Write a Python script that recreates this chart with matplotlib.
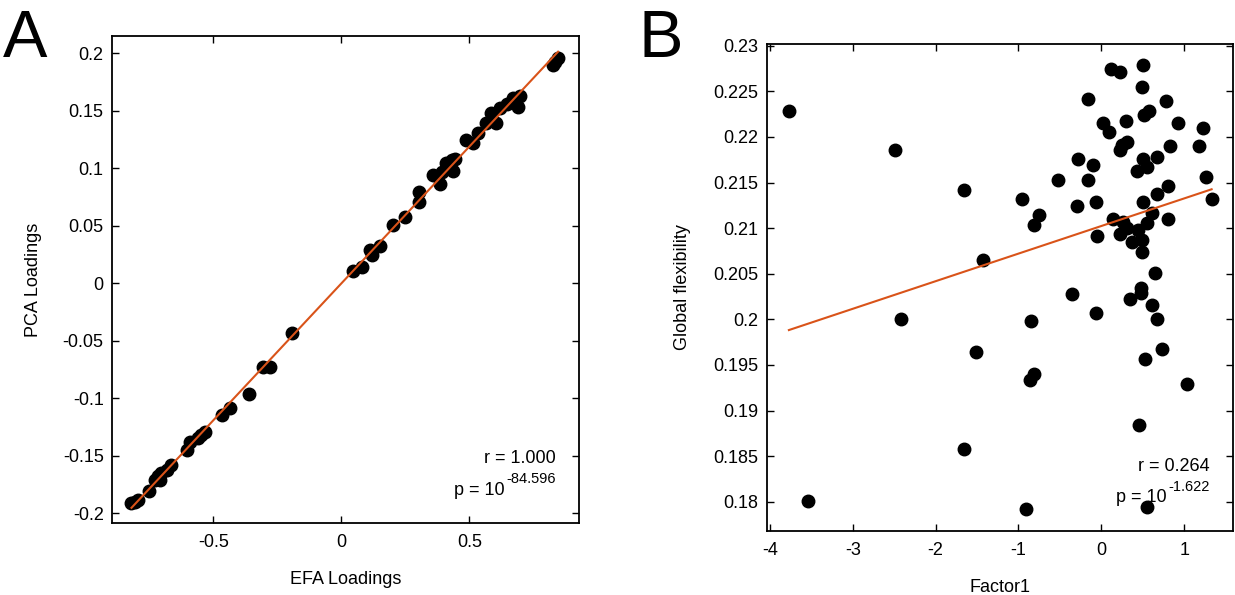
import numpy as np
import matplotlib
matplotlib.use("Agg")
import matplotlib.pyplot as plt
from matplotlib.ticker import FuncFormatter

plt.rcParams["font.family"] = ["Liberation Sans", "DejaVu Sans"]
plt.rcParams["axes.unicode_minus"] = False

# ── Panel A: EFA vs PCA loadings ──
efa_loadings = [
    0.046, 0.079, 0.111, 0.118, 0.150, 0.200, 0.248, 0.304, 0.304, 0.358,
    0.384, 0.391, 0.410, 0.430, 0.443, 0.436, 0.488, 0.512, 0.534, 0.566,
    0.586, 0.605, 0.621, 0.645, 0.670, 0.696, 0.690, 0.826, 0.846, 0.833,
    -0.192, -0.307, -0.279, -0.361, -0.435, -0.465, -0.533, -0.546, -0.559, -0.591,
    -0.604, -0.663, -0.682, -0.702, -0.715, -0.728, -0.708, -0.750, -0.806, -0.793,
    -0.819,
]
pca_loadings = [
    0.0107, 0.0136, 0.0287, 0.0243, 0.0322, 0.0504, 0.0577, 0.0794, 0.0707, 0.0939,
    0.0861, 0.0968, 0.1040, 0.1070, 0.1080, 0.0977, 0.1240, 0.1220, 0.1307, 0.1390,
    0.1475, 0.1388, 0.1520, 0.1557, 0.1606, 0.1626, 0.1533, 0.1896, 0.1954, 0.1925,
    -0.0437, -0.0728, -0.0733, -0.0965, -0.1090, -0.1148, -0.1293, -0.1320, -0.1350, -0.1380,
    -0.1450, -0.1580, -0.1626, -0.1655, -0.1680, -0.1710, -0.1710, -0.1806, -0.1900, -0.1890,
    -0.1910,
]
stats_A = ("1.000", "-84.596")

# ── Panel B: Factor1 vs global flexibility ──
factor1 = [
    -3.771, -2.491, -1.659, -1.433, -0.955, -0.810, -0.754, -0.528, -0.299, -0.279,
    -0.158, -0.158, -0.106, -0.070, -0.058, 0.022, 0.094, 0.115, 0.224, 0.293,
    0.224, 0.244, 0.305, 0.143, 0.264, 0.305, 0.224, 0.373, 0.425, 0.486,
    0.505, 0.498, 0.553, 0.498, 0.518, 0.578, 0.445, 0.486, 0.486, 0.553,
    0.607, 0.675, 0.675, 0.646, 0.779, 0.807, 0.807, 0.827, 0.928, 1.181,
    1.229, 1.258, 1.331,
    -2.419, -0.352, -0.854, -1.514, -0.862, -0.810, -0.070, 0.345, 0.474, 0.474,
    0.607, 0.675, 0.727, 0.526, 1.029, 0.453, -1.659, -3.545, -0.910, 0.553,
]
global_flex = [
    0.22287, 0.21852, 0.21421, 0.20646, 0.21322, 0.21030, 0.21147, 0.21531, 0.21238, 0.21761,
    0.22419, 0.21531, 0.21688, 0.21282, 0.20909, 0.22152, 0.22060, 0.22744, 0.22718, 0.22170,
    0.21860, 0.21914, 0.21944, 0.21100, 0.21073, 0.21000, 0.20938, 0.20848, 0.21630, 0.22543,
    0.22792, 0.21761, 0.21666, 0.21282, 0.22243, 0.22287, 0.20982, 0.20873, 0.20738, 0.21056,
    0.21172, 0.21786, 0.21374, 0.20508, 0.22400, 0.21468, 0.21100, 0.21896, 0.22152, 0.21896,
    0.22104, 0.21556, 0.21322,
    0.20003, 0.20277, 0.19977, 0.19637, 0.19338, 0.19404, 0.20069, 0.20226, 0.20343, 0.20288,
    0.20160, 0.20003, 0.19678, 0.19565, 0.19294, 0.18837, 0.18581, 0.18014, 0.17923, 0.17942,
]
stats_B = ("0.264", "-1.622")

LINE_COLOR = "#D95319"
FS = 13


def fmt(v, pos):
    v = round(v, 4)
    if v == 0:
        return "0"
    return "%g" % v


def scatter_panel(ax, x, y, stats, xticks, yticks, xlim, ylim, xlabel, ylabel, ylabelpad):
    x = np.asarray(x)
    y = np.asarray(y)
    ax.plot(x, y, "o", color="black", markersize=9, zorder=2)
    k, b = np.polyfit(x, y, 1)
    xs = np.array([x.min(), x.max()])
    ax.plot(xs, k * xs + b, color=LINE_COLOR, lw=1.5, zorder=3)

    ax.set_xlim(*xlim)
    ax.set_ylim(*ylim)
    ax.set_xticks(xticks)
    ax.set_yticks(yticks)
    ax.xaxis.set_major_formatter(FuncFormatter(fmt))
    ax.yaxis.set_major_formatter(FuncFormatter(fmt))
    ax.tick_params(direction="in", top=True, right=True, length=5, width=1,
                   labelsize=FS)
    ax.tick_params(axis="y", pad=6)
    ax.tick_params(axis="x", pad=8)
    for s in ax.spines.values():
        s.set_linewidth(1.3)
    ax.set_xlabel(xlabel, fontsize=FS, labelpad=14)
    ax.set_ylabel(ylabel, fontsize=FS, labelpad=ylabelpad)

    ax.text(0.95, 0.123, "r = %s" % stats[0], transform=ax.transAxes,
            ha="right", va="baseline", fontsize=FS)
    # superscript exponent drawn as its own text, base placed to its left
    sup = ax.text(0.95, 0.0575, stats[1], transform=ax.transAxes,
                  ha="right", va="baseline", fontsize=10.5)
    sup.set_y(0.0575 + 12 / (ax.get_position().height * 595))
    ax.annotate("p = 10", xy=(0, 0), xycoords=sup, xytext=(-1, -9),
                textcoords="offset points", ha="right", va="bottom", fontsize=FS)


fig = plt.figure(figsize=(12.35, 5.95), dpi=100)
axA = fig.add_axes([0.0907, 0.121, 0.378, 0.8185])
axB = fig.add_axes([0.621, 0.1076, 0.3773, 0.8185])

scatter_panel(axA, efa_loadings, pca_loadings, stats_A,
              [-0.5, 0, 0.5], np.arange(-0.2, 0.2001, 0.05),
              (-0.895, 0.927), (-0.2087, 0.2148),
              "EFA Loadings", "PCA Loadings", 15)
scatter_panel(axB, factor1, global_flex, stats_B,
              [-4, -3, -2, -1, 0, 1], np.arange(0.18, 0.23001, 0.005),
              (-4.036, 1.588), (0.1768, 0.2302),
              "Factor1", "Global flexibility", 16)

fig.text(3 / 1235, 1 - 57 / 595, "A", fontsize=48, ha="left", va="baseline")
fig.text(638 / 1235, 1 - 57 / 595, "B", fontsize=48, ha="left", va="baseline")

fig.savefig("out.png", dpi=100)
